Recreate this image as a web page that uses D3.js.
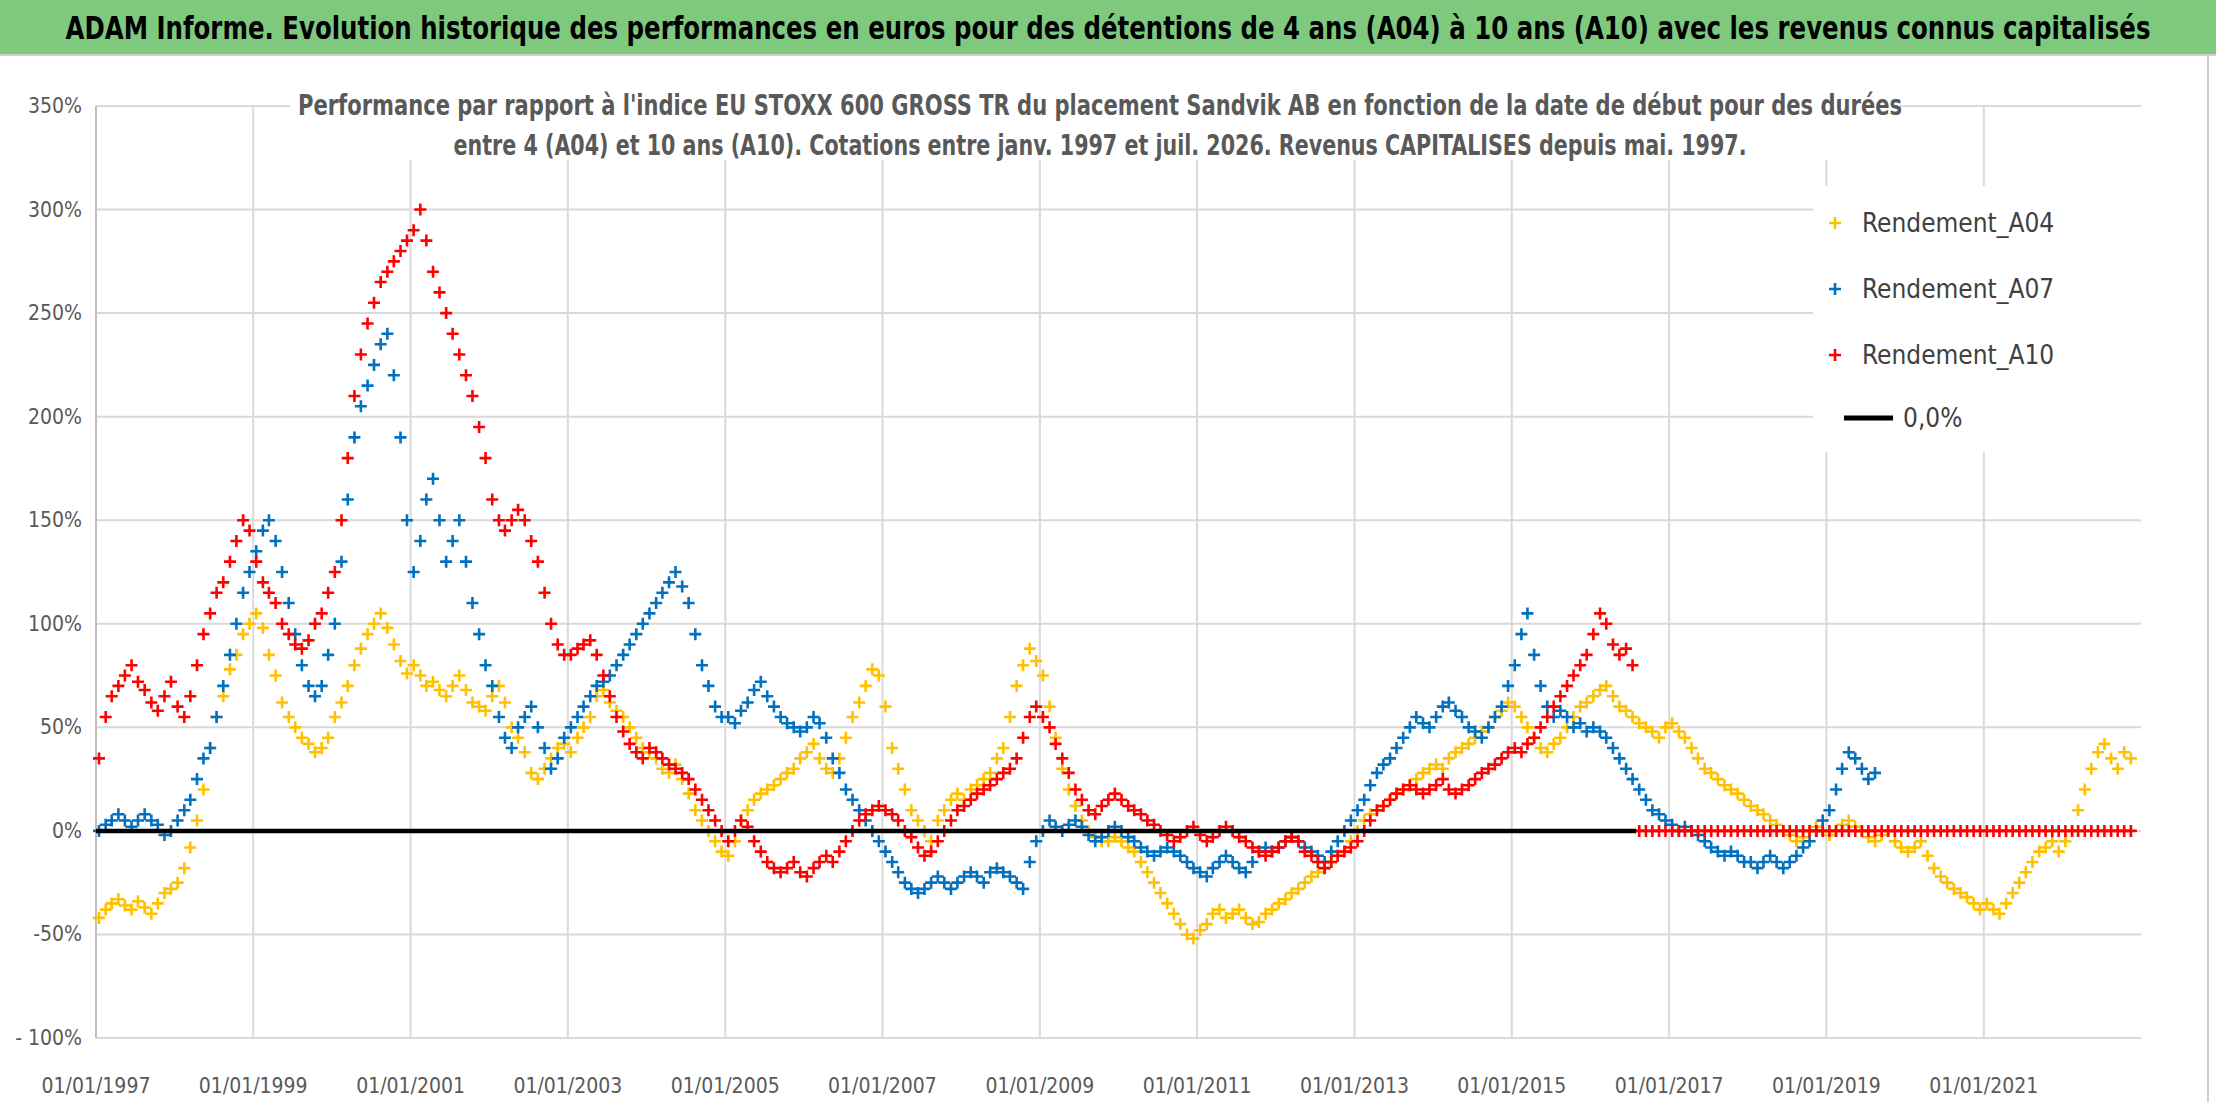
<!DOCTYPE html>
<html><head><meta charset="utf-8">
<script src="https://cdn.jsdelivr.net/npm/d3@7"></script>
<style>body{margin:0;background:#fff}svg{display:block}</style>
</head><body><div id="chart"></div>
<script>
// monthly values starting Jan 1997 (%)
var a04 = [
 -42,-38,-35,-33,-36,-38,-34,-37,-40,-35,-30,-28,
 -25,-18,-8,5,20,40,55,65,78,85,95,100,
 105,98,85,75,62,55,50,45,42,38,40,45,
 55,62,70,80,88,95,100,105,98,90,82,76,
 80,75,70,72,68,65,70,75,68,62,60,58,
 65,70,62,50,45,38,28,25,30,35,40,42,
 38,45,50,55,65,68,62,58,55,50,45,40,
 38,35,30,28,32,25,18,10,5,0,-5,-10,
 -12,-5,5,10,15,18,20,22,25,28,30,35,
 38,42,35,30,28,35,45,55,62,70,78,75,
 60,40,30,20,10,5,0,-5,5,10,15,18,
 15,20,22,25,28,35,40,55,70,80,88,82,
 75,60,45,30,20,12,5,0,-3,-5,-5,-3,
 -5,-8,-10,-15,-20,-25,-30,-35,-40,-45,-50,-52,
 -48,-45,-40,-38,-42,-40,-38,-42,-45,-44,-40,-38,
 -35,-33,-30,-28,-25,-22,-20,-18,-15,-12,-10,-5,
 0,5,8,10,12,15,18,20,22,25,28,30,
 32,30,35,38,40,42,45,48,50,55,58,62,
 60,55,50,45,40,38,42,45,50,55,60,62,
 65,68,70,65,60,58,55,52,50,48,45,50,
 52,48,45,40,35,30,28,25,22,20,18,15,
 12,10,8,5,3,0,-2,-5,-3,0,2,0,
 -2,0,3,5,2,0,-3,-5,-2,0,-5,-8,
 -10,-8,-5,-12,-18,-22,-25,-28,-30,-32,-35,-38,
 -35,-38,-40,-35,-30,-25,-20,-15,-10,-8,-5,-10,
 -5,0,10,20,30,38,42,35,30,38,35
];
var a07 = [
 0,3,5,8,5,2,5,8,5,3,-2,0,
 5,10,15,25,35,40,55,70,85,100,115,125,
 135,145,150,140,125,110,95,80,70,65,70,85,
 100,130,160,190,205,215,225,235,240,220,190,150,
 125,140,160,170,150,130,140,150,130,110,95,80,
 70,55,45,40,50,55,60,50,40,30,35,45,
 50,55,60,65,70,72,75,80,85,90,95,100,
 105,110,115,120,125,118,110,95,80,70,60,55,
 55,52,58,62,68,72,65,60,55,52,50,48,
 50,55,52,45,35,28,20,15,10,5,0,-5,
 -10,-15,-20,-25,-28,-30,-28,-25,-22,-25,-28,-25,
 -22,-20,-22,-25,-20,-18,-20,-22,-25,-28,-15,-5,
 0,5,2,0,3,5,2,-2,-5,-3,0,2,
 0,-3,-5,-8,-10,-12,-10,-8,-10,-12,-15,-18,
 -20,-22,-18,-15,-12,-15,-18,-20,-15,-10,-8,-10,
 -8,-5,-3,-5,-8,-10,-12,-15,-10,-5,0,5,
 10,15,22,28,32,35,40,45,50,55,52,50,
 55,60,62,58,55,50,48,45,50,55,60,70,
 80,95,105,85,70,60,55,58,55,50,52,48,
 50,48,45,40,35,30,25,20,15,10,8,5,
 3,0,2,0,-2,-5,-8,-10,-12,-10,-12,-15,
 -15,-18,-15,-12,-15,-18,-15,-12,-8,-5,0,5,
 10,20,30,38,35,30,25,28
];
var a10 = [
 35,55,65,70,75,80,72,68,62,58,65,72,
 60,55,65,80,95,105,115,120,130,140,150,145,
 130,120,115,110,100,95,90,88,92,100,105,115,
 125,150,180,210,230,245,255,265,270,275,280,285,
 290,300,285,270,260,250,240,230,220,210,195,180,
 160,150,145,150,155,150,140,130,115,100,90,85,
 85,88,90,92,85,75,65,55,48,42,38,35,
 40,38,35,32,30,28,25,20,15,10,5,0,
 -5,0,5,2,-5,-10,-15,-18,-20,-18,-15,-20,
 -22,-18,-15,-12,-15,-10,-5,0,5,8,10,12,
 10,8,5,0,-3,-8,-12,-10,-5,0,5,10,
 12,15,18,20,22,25,28,30,35,45,55,60,
 55,50,42,35,28,20,15,10,8,12,15,18,
 15,12,10,8,5,3,0,-2,-5,-3,0,2,
 -2,-5,-3,0,2,0,-3,-5,-8,-10,-12,-10,
 -8,-5,-3,-5,-10,-12,-15,-18,-15,-12,-10,-8,
 -5,0,5,10,12,15,18,20,22,20,18,20,
 22,25,20,18,20,22,25,28,30,32,35,38,
 40,38,42,45,50,55,60,65,70,75,80,85,
 95,105,100,90,85,88,80,
 0,0,0,0,0,
 0,0,0,0,0,0,0,0,0,0,0,0,
 0,0,0,0,0,0,0,0,0,0,0,0,
 0,0,0,0,0,0,0,0,0,0,0,0,
 0,0,0,0,0,0,0,0,0,0,0,0,
 0,0,0,0,0,0,0,0,0,0,0,0,
 0,0,0,0,0,0,0,0,0,0,0
];
var zeroLine = [["1997-01-01", 0], ["2016-08-01", 0]];
var seriesNames = ["Rendement_A04", "Rendement_A07", "Rendement_A10"];
var colors = ["#ffc000", "#0070c0", "#ff0000"];
var yTicks = [-100, -50, 0, 50, 100, 150, 200, 250, 300, 350];
var yLabels = ["- 100%", "-50%", "0%", "50%", "100%", "150%", "200%", "250%", "300%", "350%"];
var xTickYears = [1997, 1999, 2001, 2003, 2005, 2007, 2009, 2011, 2013, 2015, 2017, 2019, 2021];

var W = 2216, H = 1102;
var font = "'Liberation Sans Narrow','DejaVu Sans Condensed',sans-serif";
var pLeft = 96, pRight = 2141, pTop = 106, pBottom = 1038;

var svg = d3.select("#chart").append("svg").attr("width", W).attr("height", H);

var x = d3.scaleTime()
  .domain([new Date(1997, 0, 1), new Date(2023, 0, 1)])
  .range([pLeft, pRight]);
var y = d3.scaleLinear().domain([-100, 350]).range([pBottom, pTop]);

// banner
svg.append("rect").attr("x", 0).attr("y", 0).attr("width", W).attr("height", 54).attr("fill", "#7fc97f");
svg.append("line").attr("x1", 0).attr("x2", W).attr("y1", 55).attr("y2", 55).attr("stroke", "#d0d0d0").attr("stroke-width", 2);
svg.append("text").attr("x", W / 2).attr("y", 39).attr("text-anchor", "middle")
  .attr("font-family", font).attr("font-weight", "bold").attr("font-size", 32)
  .attr("textLength", 2085).attr("lengthAdjust", "spacingAndGlyphs")
  .text("ADAM Informe. Evolution historique des performances en euros pour des détentions de 4 ans (A04) à 10 ans (A10) avec les revenus connus capitalisés");
svg.append("line").attr("x1", 2208).attr("x2", 2208).attr("y1", 55).attr("y2", H).attr("stroke", "#d0d0d0").attr("stroke-width", 2);

// grid
svg.append("g").selectAll("line").data(yTicks).join("line")
  .attr("x1", pLeft).attr("x2", pRight).attr("y1", d => y(d)).attr("y2", d => y(d))
  .attr("stroke", "#d9d9d9").attr("stroke-width", 2);
svg.append("g").selectAll("line").data(xTickYears).join("line")
  .attr("x1", d => x(new Date(d, 0, 1))).attr("x2", d => x(new Date(d, 0, 1)))
  .attr("y1", pTop).attr("y2", pBottom)
  .attr("stroke", d => d === 1997 ? "#bfbfbf" : "#d9d9d9").attr("stroke-width", 2);

// tick labels
svg.append("g").selectAll("text").data(yTicks).join("text")
  .attr("x", 82).attr("y", d => y(d) + 7).attr("text-anchor", "end")
  .attr("font-family", font).attr("font-size", 21).attr("fill", "#595959")
  .text((d, i) => yLabels[i]);
svg.append("g").selectAll("text").data(xTickYears).join("text")
  .attr("x", d => x(new Date(d, 0, 1))).attr("y", 1093).attr("text-anchor", "middle")
  .attr("font-family", font).attr("font-size", 21).attr("fill", "#595959")
  .text(d => "01/01/" + d);

// subtitle
svg.append("rect").attr("x", 290).attr("y", 80).attr("width", 1610).attr("height", 80).attr("fill", "#fff");
var sub = svg.append("text").attr("text-anchor", "middle").attr("font-family", font)
  .attr("font-weight", "bold").attr("font-size", 28).attr("fill", "#595959");
sub.append("tspan").attr("x", 1100).attr("y", 115).attr("textLength", 1604).attr("lengthAdjust", "spacingAndGlyphs")
  .text("Performance par rapport à l'indice EU STOXX 600 GROSS TR  du placement Sandvik AB en fonction de la date de début pour des durées");
sub.append("tspan").attr("x", 1100).attr("y", 155).attr("textLength", 1293).attr("lengthAdjust", "spacingAndGlyphs")
  .text("entre 4 (A04) et 10 ans (A10). Cotations entre janv. 1997 et juil. 2026. Revenus CAPITALISES depuis mai. 1997.");

// markers
var cross = "M-6,0H6M0,-6V6";
[a04, a07, a10].forEach(function (vals, si) {
  svg.append("g").selectAll("path").data(vals).join("path")
    .attr("d", cross)
    .attr("transform", (d, i) => "translate(" + x(new Date(1997, i, 15)) + "," + y(d) + ")")
    .attr("stroke", colors[si]).attr("stroke-width", 2.6).attr("fill", "none");
});

// zero line
svg.append("path")
  .attr("d", d3.line().x(d => x(new Date(d[0]))).y(d => y(d[1]))(zeroLine))
  .attr("stroke", "#000").attr("stroke-width", 4.5).attr("fill", "none");

// legend
var lg = svg.append("g");
lg.append("rect").attr("x", 1813).attr("y", 186).attr("width", 335).attr("height", 266).attr("fill", "#fff");
seriesNames.forEach(function (n, i) {
  var ly = 223 + i * 66;
  lg.append("path").attr("d", cross).attr("transform", "translate(1835," + ly + ")")
    .attr("stroke", colors[i]).attr("stroke-width", 2.6);
  lg.append("text").attr("x", 1862).attr("y", ly + 9).attr("font-family", font)
    .attr("font-size", 26).attr("fill", "#404040").text(n);
});
lg.append("line").attr("x1", 1844).attr("x2", 1893).attr("y1", 418).attr("y2", 418)
  .attr("stroke", "#000").attr("stroke-width", 5);
lg.append("text").attr("x", 1903).attr("y", 427).attr("font-family", font)
  .attr("font-size", 26).attr("fill", "#404040").text("0,0%");
</script></body></html>
